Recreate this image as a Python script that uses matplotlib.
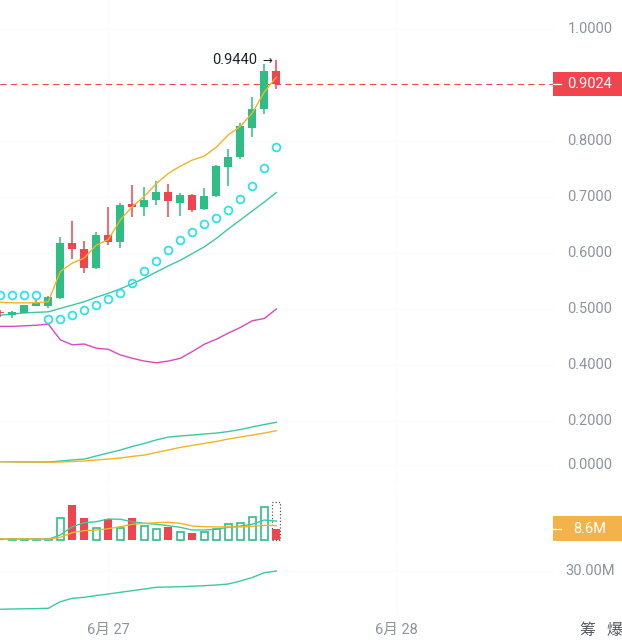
import numpy as np
import matplotlib
matplotlib.use("Agg")
import matplotlib.pyplot as plt
from matplotlib import transforms
from matplotlib.patches import Rectangle

plt.rcParams['font.family'] = ['Roboto', 'Noto Sans CJK SC', 'DejaVu Sans']

# hourly candles, 6/26 15:00 ... 6/27 14:00
hours = np.arange(24)
opens = [0.4935, 0.489, 0.493, 0.506, 0.505, 0.519, 0.618, 0.608, 0.574, 0.633, 0.619, 0.688,
         0.682, 0.695, 0.709, 0.690, 0.704, 0.678, 0.702, 0.753, 0.771, 0.824, 0.857, 0.925]
closes = [0.4925, 0.495, 0.507, 0.510, 0.521, 0.618, 0.608, 0.574, 0.632, 0.619, 0.686, 0.682,
          0.695, 0.709, 0.692, 0.703, 0.677, 0.701, 0.755, 0.772, 0.827, 0.858, 0.925, 0.9024]
highs = [0.498, 0.496, 0.508, 0.517, 0.523, 0.629, 0.658, 0.622, 0.637, 0.683, 0.689, 0.721,
         0.718, 0.729, 0.724, 0.708, 0.705, 0.716, 0.758, 0.785, 0.833, 0.879, 0.9375, 0.944]
lows = [0.486, 0.484, 0.492, 0.505, 0.502, 0.517, 0.589, 0.565, 0.571, 0.614, 0.609, 0.664,
        0.666, 0.685, 0.664, 0.666, 0.673, 0.677, 0.700, 0.719, 0.768, 0.807, 0.848, 0.892]

ma_fast = [0.512, 0.511, 0.511, 0.511, 0.513, 0.567, 0.582, 0.591, 0.614, 0.624, 0.659, 0.683,
           0.701, 0.724, 0.742, 0.755, 0.766, 0.773, 0.789, 0.811, 0.826, 0.850, 0.8875, 0.914]
ma_slow = [0.489, 0.491, 0.493, 0.494, 0.495, 0.501, 0.507, 0.513, 0.521, 0.528, 0.536, 0.545,
           0.555, 0.566, 0.577, 0.587, 0.599, 0.611, 0.626, 0.643, 0.659, 0.675, 0.691, 0.708]
band_low = [0.469, 0.469, 0.470, 0.471, 0.473, 0.445, 0.436, 0.4375, 0.430, 0.428, 0.418, 0.412,
            0.407, 0.404, 0.407, 0.412, 0.424, 0.437, 0.446, 0.457, 0.467, 0.479, 0.483, 0.500]
sar = [0.525, 0.525, 0.525, 0.525, 0.482, 0.482, 0.489, 0.498, 0.508, 0.517, 0.529, 0.546,
       0.567, 0.586, 0.605, 0.623, 0.638, 0.651, 0.662, 0.677, 0.696, 0.720, 0.752, 0.789]

macd_dif = [0.015, 0.0145, 0.0136, 0.0136, 0.0136, 0.018, 0.023, 0.027, 0.041, 0.0545, 0.068, 0.084,
            0.098, 0.114, 0.127, 0.132, 0.136, 0.141, 0.145, 0.152, 0.161, 0.173, 0.184, 0.194]
macd_dea = [0.015, 0.0145, 0.0136, 0.0136, 0.0123, 0.0136, 0.016, 0.018, 0.023, 0.027, 0.032, 0.039,
            0.045, 0.057, 0.068, 0.080, 0.089, 0.098, 0.107, 0.118, 0.127, 0.136, 0.145, 0.156]

volume = [0.8, 0.8, 0.8, 0.8, 0.8, 17.0, 27.1, 17.0, 9.6, 16.4, 9.6, 17.0,
          11.2, 8.4, 10.2, 6.0, 5.2, 6.0, 8.8, 12.3, 13.0, 18.0, 25.8, 8.6]
volume_est_last = 29.9
vol_ma5 = [0.8, 0.8, 0.8, 0.8, 0.6, 3.9, 10.4, 13.5, 14.3, 16.4, 16.2, 14.3,
           13.0, 12.3, 11.2, 9.9, 7.8, 7.8, 8.4, 9.9, 10.9, 12.3, 15.6, 14.8]
vol_ma10 = [0.8, 0.8, 0.8, 0.8, 0.6, 2.1, 5.7, 7.3, 7.8, 8.8, 10.4, 12.3,
            13.0, 13.5, 13.8, 13.0, 10.9, 10.4, 10.2, 10.2, 10.2, 10.7, 11.5, 11.2]

obv = [10.85, 11.0, 11.1, 11.2, 11.35, 14.65, 16.35, 16.85, 17.75, 18.5, 19.35, 20.15,
       21.0, 21.85, 22.0, 22.15, 22.4, 22.65, 23.0, 23.5, 25.0, 26.75, 29.15, 30.0]

price_ticks = [1.0, 0.8, 0.7, 0.6, 0.5, 0.4]
macd_ticks = [0.2, 0.0]
obv_ticks = [30.0]
last_price = 0.9024
date_ticks = [9, 33]
date_labels = ["6月 27", "6月 28"]

GREEN = '#2ebd85'
RED = '#f0444f'
ORANGE = '#f5b324'
TEAL = '#3cc9a0'
MAGENTA = '#dc48bf'
CYAN = '#2fe0ef'
GRAY = '#8e939c'
GRID = '#fafbfc'

W, H = 622, 640
PLOT_W = 553


def add_panel(fig, top, bottom):
    return fig.add_axes([0, 1 - bottom / H, PLOT_W / W, (bottom - top) / H])


def ylim_from(ax, ref_px, ref_val, ppu, top, bottom):
    ax.set_ylim(ref_val - (bottom - ref_px) / ppu, ref_val + (ref_px - top) / ppu)


def right_text(ax, val, text, color=GRAY):
    tr = transforms.blended_transform_factory(ax.transAxes, ax.transData)
    ax.text(1 + 37 / PLOT_W, val, text, transform=tr, ha='center', va='center',
            fontsize=10.5, color=color, clip_on=False)


def value_box(ax, val, text, color, height_units):
    tr = transforms.blended_transform_factory(ax.transAxes, ax.transData)
    ax.add_patch(Rectangle((1.0, val - height_units / 2), (W - PLOT_W) / PLOT_W, height_units,
                           transform=tr, facecolor=color, edgecolor='none', clip_on=False))
    ax.plot([1.0, 1 + 8 / PLOT_W], [val, val], transform=tr, color='white', lw=0.9, clip_on=False)
    right_text(ax, val, text, color='white')


fig = plt.figure(figsize=(W / 100, H / 100), dpi=100)
ax_main = add_panel(fig, 0, 392)
ax_macd = add_panel(fig, 398, 485)
ax_vol = add_panel(fig, 490, 545)
ax_obv = add_panel(fig, 550, 615)

for ax in (ax_main, ax_macd, ax_vol, ax_obv):
    ax.set_xlim(-0.3 / 12, (PLOT_W - 0.3) / 12)
    for s in ax.spines.values():
        s.set_visible(False)
    ax.set_yticks([])
    ax.set_xticks([])
    for d in date_ticks:
        ax.axvline(d, color=GRID, lw=1, zorder=0)

ylim_from(ax_main, 29, 1.0, 560, 0, 392)
ylim_from(ax_macd, 465, 0.0, 220, 398, 485)
ylim_from(ax_vol, 540, 0.0, 1.28, 490, 545)
ylim_from(ax_obv, 571, 30.0, 2.0, 550, 615)

# ---- main price panel
o = np.array(opens)
c = np.array(closes)
up = c >= o
cols = [GREEN if u else RED for u in up]
ax_main.vlines(hours, lows, highs, colors=cols, lw=1.1, zorder=3)
body = np.maximum(np.abs(c - o), 0.0015)
ax_main.bar(hours, body, bottom=np.minimum(o, c), width=0.66, color=cols, zorder=4)
ax_main.plot(hours, ma_fast, color=ORANGE, lw=1.0, zorder=5)
ax_main.plot(hours, ma_slow, color=TEAL, lw=1.0, zorder=2)
ax_main.plot(hours, band_low, color=MAGENTA, lw=1.0, zorder=2)
ax_main.plot(hours, sar, 'o', ms=5.6, mfc='none', mec=CYAN, mew=1.3, zorder=5)
for t in price_ticks:
    ax_main.axhline(t, color=GRID, lw=1, zorder=0)
    right_text(ax_main, t, f"{t:.4f}")
ax_main.axhline(last_price, color=RED, lw=0.8, ls=(0, (5.5, 4)), zorder=1)
value_box(ax_main, last_price, f"{last_price:.4f}", RED, 24 / 560)

# highest price marker
i_hi = int(np.argmax(highs))
ax_main.text(i_hi - 1.6, highs[i_hi] + 0.0005, f"{highs[i_hi]:.4f}", ha='right', va='center',
             fontsize=10.5, color='#1e2329')
ax_main.text(i_hi - 0.73, highs[i_hi] + 0.0005, "→", ha='center', va='center',
             fontsize=8.5, color='#1e2329', family=['DejaVu Sans'])

# ---- MACD panel
ax_macd.plot(hours, macd_dif, color=TEAL, lw=1.0)
ax_macd.plot(hours, macd_dea, color=ORANGE, lw=1.0)
for t in macd_ticks:
    ax_macd.axhline(t, color=GRID, lw=1, zorder=0)
    right_text(ax_macd, t, f"{t:.4f}")

# ---- volume panel
v = np.array(volume)
for i in hours:
    if up[i]:
        ax_vol.bar(i, v[i], width=0.62, facecolor='white', edgecolor=GREEN, lw=1.2, zorder=3)
    else:
        ax_vol.bar(i, v[i], width=0.66, color=RED, zorder=3)
ax_vol.bar(hours[-1], volume_est_last, width=0.66, fill=False, edgecolor='#555555',
           ls=':', lw=0.9, zorder=2)
ax_vol.plot(hours, vol_ma5, color=TEAL, lw=1.0, zorder=4)
ax_vol.plot(hours, vol_ma10, color=ORANGE, lw=1.0, zorder=4)
value_box(ax_vol, volume[-1], f"{volume[-1]:.1f}M", '#f3b34a', 25 / 1.28)

# ---- OBV panel
ax_obv.plot(hours, obv, color=TEAL, lw=1.0)
for t in obv_ticks:
    ax_obv.axhline(t, color=GRID, lw=1, zorder=0)
    right_text(ax_obv, t, f"{t:.2f}M")

ax_obv.set_xticks(date_ticks)
ax_obv.set_xticklabels(date_labels)
ax_obv.tick_params(axis='x', length=0, pad=6, labelsize=10.5, labelcolor=GRAY)

fig.text(587 / W, 1 - 630 / H, "筹", ha='center', va='center', fontsize=11.5, color='#555a63')
fig.text(614.5 / W, 1 - 630 / H, "爆", ha='center', va='center', fontsize=11.5, color='#555a63')

fig.savefig("out.png", dpi=100, facecolor='white')
